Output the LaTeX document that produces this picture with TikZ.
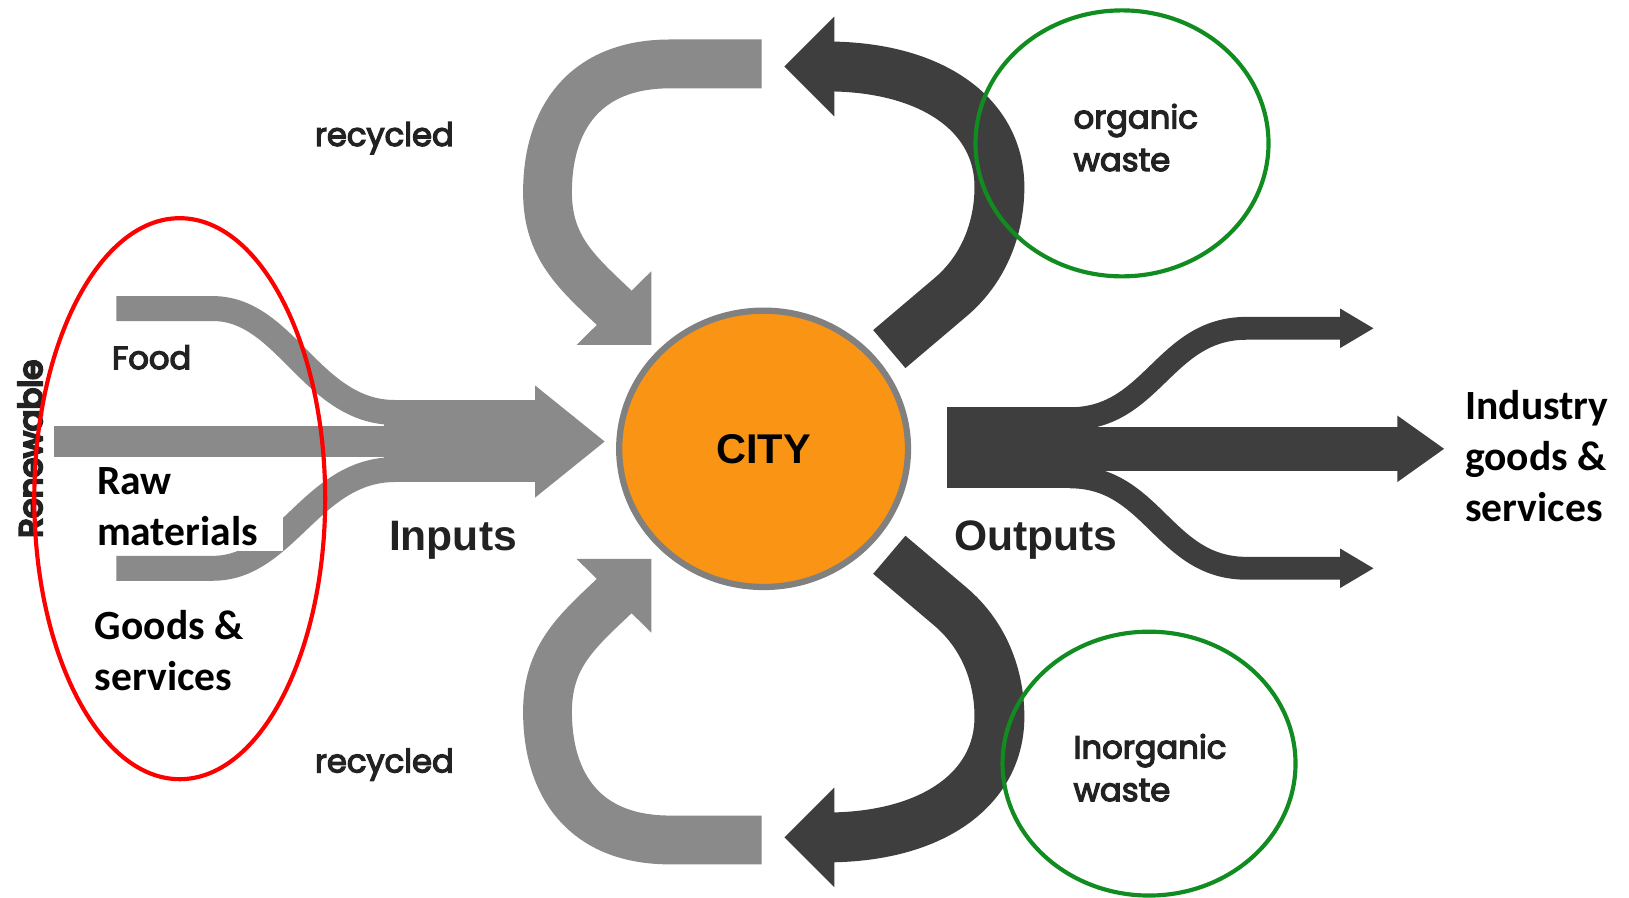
\documentclass[tikz,border=0pt]{standalone}
\usepackage{fontspec}
\setmainfont{Carlito}
\newfontfamily\gothic{Poppins}
\newfontfamily\arialf{Liberation Sans}
\usetikzlibrary{shapes.geometric}
\newcommand\thicktext[2]{\special{pdf:literal direct #1 w 2 Tr}#2\special{pdf:literal direct 0 Tr}}
\definecolor{ingray}{RGB}{138,138,138}
\definecolor{outgray}{RGB}{62,62,62}
\definecolor{cityorange}{RGB}{250,148,20}
\definecolor{cityrim}{RGB}{128,128,128}
\definecolor{ringgreen}{RGB}{16,140,32}
\definecolor{ringred}{RGB}{255,0,0}
\definecolor{labelgray}{RGB}{34,34,34}
\begin{document}
\begin{tikzpicture}[x=0.5pt,y=-0.5pt,
  inband/.style={draw=ingray, line cap=butt},
  outband/.style={draw=outgray, line cap=butt},
  graylabel/.style={text=labelgray, font=\gothic\fontsize{15.5}{20.5}\selectfont, inner sep=0pt},
  boldlabel/.style={text=labelgray, font=\arialf\bfseries\fontsize{20.5}{24}\selectfont, inner sep=0pt},
  blacklabel/.style={text=black, font=\bfseries\fontsize{20}{24.5}\selectfont, inner sep=0pt, align=left, anchor=west},
  ring/.style={line width=2pt}
]
\path[use as bounding box, fill=white] (0,0) rectangle (1568,864);

% ---------- input flows ----------
\draw[inband, line width=12pt] (112,297) -- (205,297) .. controls (275,297) and (300,397) .. (380,397);
\draw[inband, line width=15pt] (52,425) -- (390,425);
\draw[inband, line width=12pt] (112,547) -- (205,547) .. controls (275,547) and (300,452) .. (380,452);
\fill[ingray] (370,385) rectangle (516,464);
\fill[ingray] (515,371) -- (582,425) -- (515,479) -- cycle;

% ---------- recycled loops (gray) ----------
\draw[inband, line width=23.5pt] (733,61.5) -- (645,61.5) .. controls (562,61.5) and (527,115) .. (527,185) .. controls (527,238) and (555,262) .. (592,297);
\fill[ingray] (555,332) -- (627,261) -- (627,332) -- cycle;
\begin{scope}[shift={(0,870)}, yscale=-1]
\draw[inband, line width=23.5pt] (733,61.5) -- (645,61.5) .. controls (562,61.5) and (527,115) .. (527,185) .. controls (527,238) and (555,262) .. (592,297);
\fill[ingray] (555,332) -- (627,261) -- (627,332) -- cycle;
\end{scope}

% ---------- waste loops (dark) ----------
\draw[outband, line width=24pt] (856,336) -- (915,286) .. controls (948,258) and (962,218) .. (962,180) .. controls (962,112) and (900,66) .. (802,64);
\fill[outgray] (803,16) -- (755,64) -- (803,112) -- cycle;
\begin{scope}[shift={(0,870)}, yscale=-1]
\draw[outband, line width=24pt] (856,336) -- (915,286) .. controls (948,258) and (962,218) .. (962,180) .. controls (962,112) and (900,66) .. (802,64);
\fill[outgray] (803,16) -- (755,64) -- (803,112) -- cycle;
\end{scope}

% ---------- output flows ----------
\fill[outgray] (912,392) rectangle (1050,470);
\fill[outgray] (1040,411) rectangle (1346,453);
\fill[outgray] (1345,400) -- (1390,432) -- (1345,464) -- cycle;
\draw[outband, line width=11pt] (1030,403) .. controls (1110,403) and (1120,316) .. (1200,316) -- (1292,316);
\fill[outgray] (1290,297) -- (1322,316) -- (1290,335) -- cycle;
\draw[outband, line width=11pt] (1030,459) .. controls (1110,459) and (1120,547) .. (1200,547) -- (1292,547);
\fill[outgray] (1290,528) -- (1322,547) -- (1290,566) -- cycle;

% ---------- city ----------
\node (city) [ellipse, draw=cityrim, line width=3pt, fill=cityorange,
  minimum width=139pt, minimum height=133pt, inner sep=0pt,
  font=\arialf\bfseries\fontsize{20}{24}\selectfont] at (735,432) {CITY};

% ---------- gray labels ----------
\node (rectop) [graylabel] at (370,133) {\thicktext{0.6}{recycled}};
\node (recbot) [graylabel] at (370,736) {\thicktext{0.6}{recycled}};
\node (food) [graylabel] at (146,344) {\thicktext{0.6}{Food}};
\node (renew) [graylabel, rotate=90] at (29,432) {\thicktext{1.1}{Renewable}};
\node (inputs) [boldlabel] at (436,520) {Inputs};
\node (outputs) [boldlabel] at (997,520) {Outputs};
\node (organic) [graylabel, align=left, anchor=west] at (1033,132.5) {\thicktext{0.6}{organic\\waste}};
\node (inorganic) [graylabel, align=left, anchor=west] at (1033,739) {\thicktext{0.6}{Inorganic\\waste}};

% ---------- black labels ----------
\fill[white] (75,443) rectangle (272,530);
\node (raw) [blacklabel] at (93,487.5) {Raw\\materials};
\node (goods) [blacklabel] at (91,626.5) {Goods \&\\services};
\node (industry) [blacklabel] at (1410,439) {Industry\\goods \&\\services};

% ---------- rings ----------
\draw[ringred, ring] (173,480) ellipse [x radius=70pt, y radius=135pt];
\draw[ringgreen, ring] (1080,138) ellipse [x radius=70.5pt, y radius=64pt];
\draw[ringgreen, ring] (1106,735) ellipse [x radius=70.5pt, y radius=63.5pt];
\end{tikzpicture}
\end{document}
